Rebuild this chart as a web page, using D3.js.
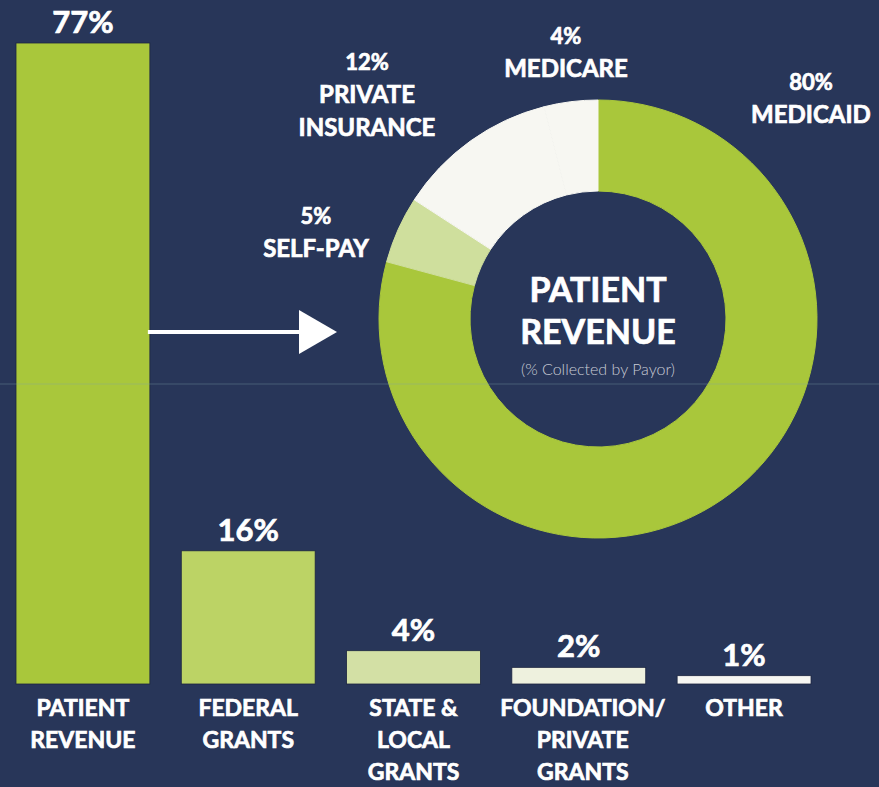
<!DOCTYPE html>
<meta charset="utf-8">
<style>
  body { margin: 0; background: #283659; }
  svg text { font-family: 'Lato', sans-serif; fill: #ffffff; }
  .pct, .cat, .slicePct, .sliceName, .centerTitle { font-weight: 700; stroke: #ffffff; stroke-width: 0.7px; }
  .pct { font-size: 31px; }
  .cat { font-size: 23px; }
  .slicePct { font-size: 22px; }
  .sliceName { font-size: 24px; }
  .centerTitle { font-size: 34px; }
  .centerSub { font-weight: 300; font-size: 16px; fill: #c9ccd6; }
</style>
<body>
<div id="chart"></div>
<script src="https://d3js.org/d3.v7.min.js"></script>
<script>
  // revenue sources (bars)
  var categories = ["PATIENT REVENUE", "FEDERAL GRANTS", "STATE & LOCAL GRANTS", "FOUNDATION/ PRIVATE GRANTS", "OTHER"];
  var categoryLines = [["PATIENT", "REVENUE"], ["FEDERAL", "GRANTS"], ["STATE &", "LOCAL", "GRANTS"], ["FOUNDATION/", "PRIVATE", "GRANTS"], ["OTHER"]];
  var shares = [77, 16, 4, 2, 1];

  // patient revenue by payor (donut), clockwise from 12 o'clock
  var payors = ["MEDICAID", "SELF-PAY", "PRIVATE INSURANCE", "MEDICARE"];
  var payorLines = [["MEDICAID"], ["SELF-PAY"], ["PRIVATE", "INSURANCE"], ["MEDICARE"]];
  var payorShares = [80, 5, 12, 4];

  var width = 879, height = 787;
  var barColors = ["#a9c73b", "#bcd365", "#d3e0a5", "#eef1de", "#f7f7f3"];
  var sliceColors = ["#a9c73b", "#cfdf9d", "#f7f7f2", "#f7f7f2"];

  var svg = d3.select("#chart").append("svg")
    .attr("width", width)
    .attr("height", height);

  svg.append("rect").attr("width", width).attr("height", height).attr("fill", "#283659");

  // scales
  var x = d3.scaleBand().domain(categories).range([16, 811]).paddingInner(0.19).paddingOuter(0);
  var y = d3.scaleLinear().domain([0, 77]).range([684, 43]);

  // bars
  svg.selectAll(".bar")
    .data(categories)
    .enter().append("rect")
    .attr("class", "bar")
    .attr("x", d => x(d))
    .attr("y", (d, i) => y(shares[i]))
    .attr("width", x.bandwidth())
    .attr("height", (d, i) => y(0) - y(shares[i]))
    .attr("fill", (d, i) => barColors[i])
    .attr("stroke", "#1c2540")
    .attr("stroke-width", 0.8);

  // values above bars
  svg.selectAll(".pct")
    .data(categories)
    .enter().append("text")
    .attr("class", "pct")
    .attr("x", d => x(d) + x.bandwidth() / 2)
    .attr("y", (d, i) => y(shares[i]) - 10)
    .attr("text-anchor", "middle")
    .text((d, i) => shares[i] + "%");

  // category names under bars
  var cat = svg.selectAll(".cat")
    .data(categories)
    .enter().append("text")
    .attr("class", "cat")
    .attr("text-anchor", "middle");
  cat.each(function(d, i) {
    var t = d3.select(this);
    categoryLines[i].forEach((line, j) => {
      t.append("tspan")
        .attr("x", x(d) + x.bandwidth() / 2 + (i == 3 ? 4 : 0))
        .attr("y", 716 + j * 32)
        .text(line);
    });
  });

  // arrow from first bar to the donut
  svg.append("line")
    .attr("x1", x(categories[0]) + x.bandwidth() - 2)
    .attr("x2", 302)
    .attr("y1", 332).attr("y2", 332)
    .attr("stroke", "#ffffff")
    .attr("stroke-width", 4);
  svg.append("path")
    .attr("d", "M299,310 L337,332 L299,354 Z")
    .attr("fill", "#ffffff");

  // donut
  var cx = 598, cy = 319;
  var pie = d3.pie().sort(null).value(d => d);
  var arc = d3.arc().innerRadius(128).outerRadius(219);

  var donut = svg.append("g").attr("transform", `translate(${cx},${cy})`);
  donut.selectAll("path")
    .data(pie(payorShares))
    .enter().append("path")
    .attr("d", arc)
    .attr("fill", (d, i) => sliceColors[i])
    .attr("stroke", (d, i) => sliceColors[i]);

  // slice labels (anchor of the percentage line)
  var labelPos = [[811, 90], [316, 224], [367, 70], [566, 44]];
  payors.forEach((p, i) => {
    var t = svg.append("text").attr("text-anchor", "middle");
    t.append("tspan")
      .attr("class", "slicePct")
      .attr("x", labelPos[i][0])
      .attr("y", labelPos[i][1])
      .text(payorShares[i] + "%");
    payorLines[i].forEach((line, j) => {
      t.append("tspan")
        .attr("class", "sliceName")
        .attr("x", labelPos[i][0])
        .attr("y", labelPos[i][1] + 33 + j * 33)
        .text(line);
    });
  });

  // center text
  svg.append("text").attr("class", "centerTitle").attr("x", cx).attr("y", 302)
    .attr("text-anchor", "middle").text("PATIENT");
  svg.append("text").attr("class", "centerTitle").attr("x", cx).attr("y", 344)
    .attr("text-anchor", "middle").text("REVENUE");
  svg.append("text").attr("class", "centerSub").attr("x", cx).attr("y", 375)
    .attr("text-anchor", "middle").text("(% Collected by Payor)");

  // faint scan line across the page
  svg.append("line")
    .attr("x1", 0).attr("x2", width)
    .attr("y1", 384).attr("y2", 384)
    .attr("stroke", "#7fa3a8")
    .attr("stroke-opacity", 0.18)
    .attr("stroke-width", 2);
</script>
</body>
